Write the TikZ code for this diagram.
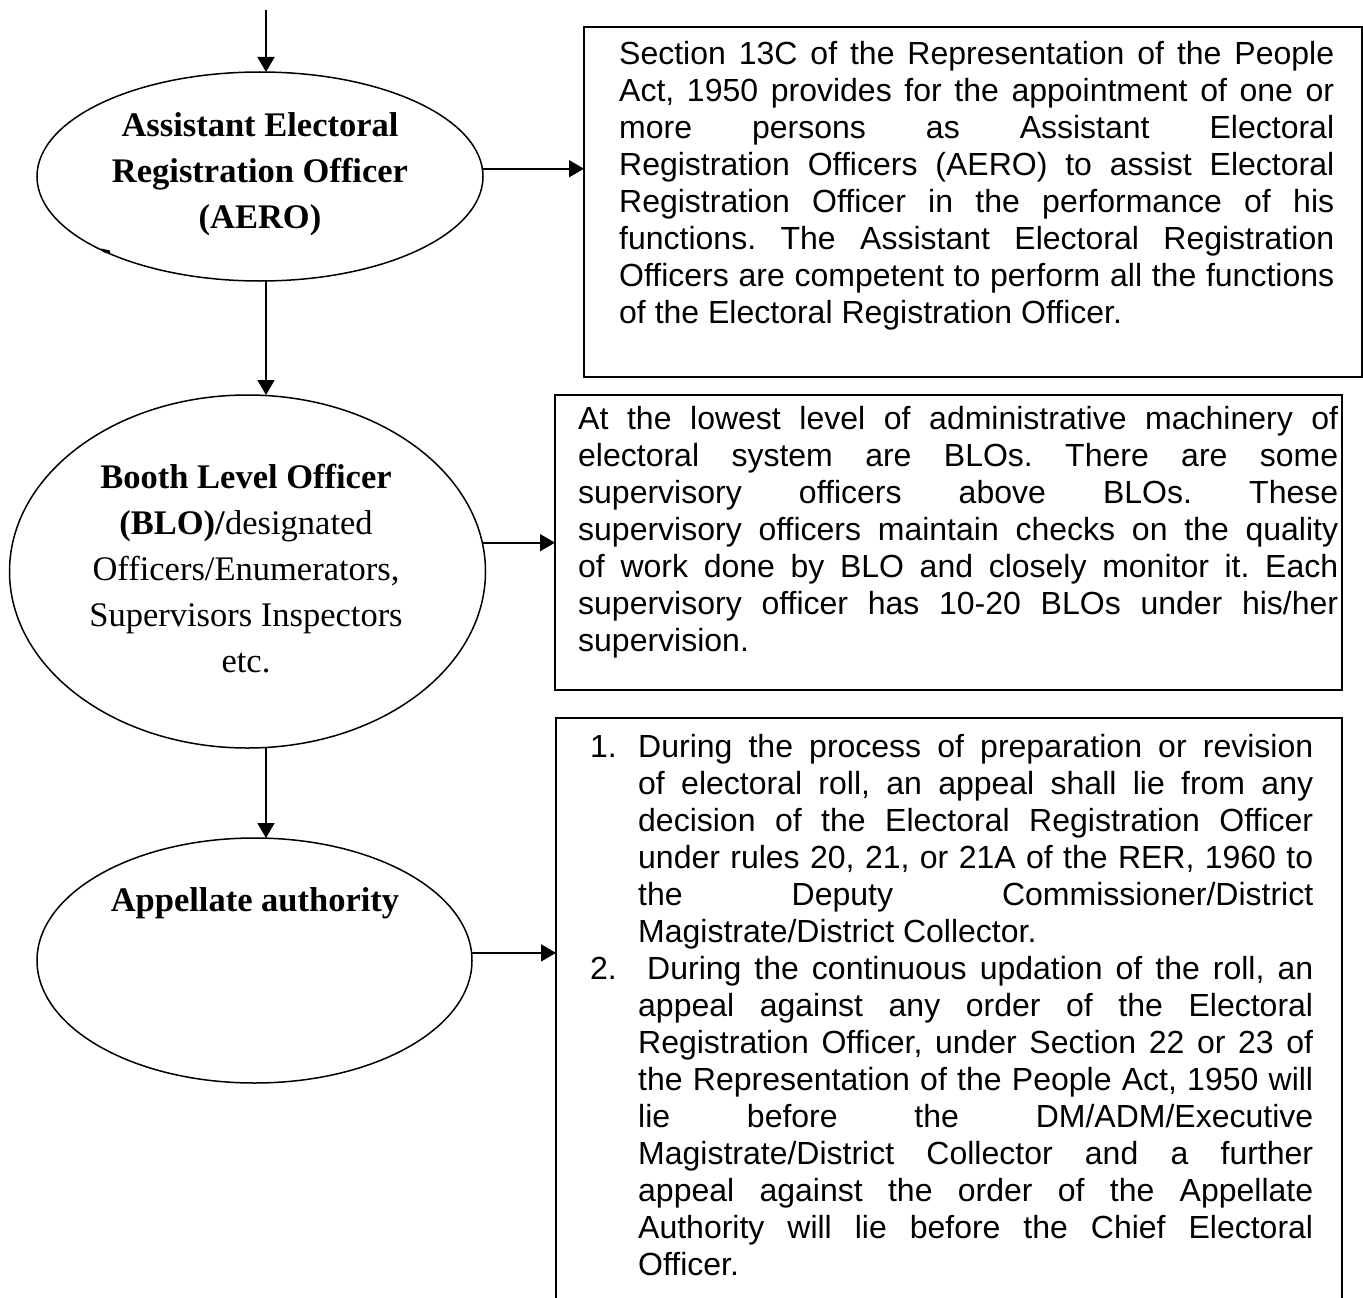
\documentclass[tikz,border=0pt]{standalone}
\usepackage{fontspec}
\setmainfont{Liberation Serif}
\newfontfamily\arialf{Liberation Sans}
\usetikzlibrary{shapes.geometric,arrows.meta}
\frenchspacing
\newlength\lw
\newcommand\jl[1]{\makebox[\lw][s]{\strut #1}}
\newcommand\lfl[1]{\makebox[\lw][l]{\strut #1}}
\newcommand\numl[2]{\makebox[48pt][l]{\strut #1}\makebox[\lw][s]{\strut #2}}
\newcommand\numj[1]{\hspace*{48pt}\makebox[\lw][s]{\strut #1}}
\newcommand\numf[1]{\hspace*{48pt}\makebox[\lw][l]{\strut #1}}
\begin{document}
\begin{tikzpicture}[x=1pt,y=-1pt,
  shp/.style={draw, line width=1.5pt, inner sep=0pt, outer sep=0pt},
  ell/.style={shp, ellipse},
  boxst/.style={shp, rectangle},
  arr/.style={line width=1.8pt, -{Triangle[length=15pt,width=17pt]}},
  etext/.style={inner sep=0pt, align=center, font=\fontsize{34.5}{46}\selectfont},
  btext/.style={inner sep=0pt, align=left, anchor=north west}
]
\clip (0,0) rectangle (1363,1298);
\fill[white] (0,0) rectangle (1363,1298);

% ellipses
\node[ell, minimum width=446pt, minimum height=209pt] (aero) at (260,176.5) {};
\node[ell, minimum width=476pt, minimum height=353pt] (blo) at (247.5,571.5) {};
\node[ell, minimum width=435pt, minimum height=245pt] (app) at (254.5,960.5) {};

% ellipse texts
\node[etext, anchor=north] (aerot) at (260,112.5) {\bfseries Assistant Electoral\\\bfseries Registration Officer\\\bfseries (AERO)};
\node[etext, anchor=north] (blot) at (246,464.5) {\bfseries Booth Level Officer\\\textbf{(BLO)/}designated\\Officers/Enumerators,\\Supervisors Inspectors\\etc.};
\node[etext, anchor=north] (appt) at (255,887.5) {\bfseries Appellate authority};

% small mark
\fill (101,248.5) -- (110,250.5) -- (110,254) -- (103,252) -- cycle;

% boxes
\node[boxst, minimum width=778pt, minimum height=350pt] (box1) at (973,202) {};
\node[boxst, minimum width=787pt, minimum height=295pt] (box2) at (948.5,542.5) {};
\node[boxst, minimum width=786pt, minimum height=602pt] (box3) at (949,1019) {};

% box texts
\node[btext, font={\arialf\fontsize{32}{37}\selectfont\setlength{\lw}{715pt}}] (t1) at (619,38) {%
\jl{Section 13C of the Representation of the People}\\
\jl{Act, 1950 provides for the appointment of one or}\\
\jl{more persons as Assistant Electoral}\\
\jl{Registration Officers (AERO) to assist Electoral}\\
\jl{Registration Officer in the performance of his}\\
\jl{functions. The Assistant Electoral Registration}\\
\jl{Officers are competent to perform all the functions}\\
\lfl{of the Electoral Registration Officer.}};

\node[btext, font={\arialf\fontsize{32}{37}\selectfont\setlength{\lw}{760pt}}] (t2) at (578,403) {%
\jl{At the lowest level of administrative machinery of}\\
\jl{electoral system are BLOs. There are some}\\
\jl{supervisory officers above BLOs. These}\\
\jl{supervisory officers maintain checks on the quality}\\
\jl{of work done by BLO and closely monitor it. Each}\\
\jl{supervisory officer has 10-20 BLOs under his/her}\\
\lfl{supervision.}};

\node[btext, font={\arialf\fontsize{32}{37}\selectfont\setlength{\lw}{675pt}}] (t3) at (590,731) {%
\numl{1.}{During the process of preparation or revision}\\
\numj{of electoral roll, an appeal shall lie from any}\\
\numj{decision of the Electoral Registration Officer}\\
\numj{under rules 20, 21, or 21A of the RER, 1960 to}\\
\numj{the Deputy Commissioner/District}\\
\numf{Magistrate/District Collector.}\\
\numl{2.}{\hspace*{9pt}During the continuous updation of the roll, an}\\
\numj{appeal against any order of the Electoral}\\
\numj{Registration Officer, under Section 22 or 23 of}\\
\numj{the Representation of the People Act, 1950 will}\\
\numj{lie before the DM/ADM/Executive}\\
\numj{Magistrate/District Collector and a further}\\
\numj{appeal against the order of the Appellate}\\
\numj{Authority will lie before the Chief Electoral}\\
\numf{Officer.}};

% connectors
\coordinate (vx) at (266,0);
\coordinate (topin) at (266,10);
\draw[arr] (topin) -- (aero.north -| vx);
\draw[arr] (aero.south -| vx) -- (blo.north -| vx);
\draw[arr] (blo.south -| vx) -- (app.north -| vx);
\draw[arr] (aero.2) -- (aero.2 -| box1.west);
\draw[arr] (blo.7.3) -- (blo.7.3 -| box2.west);
\draw[arr] (app.2) -- (app.2 -| box3.west);
\end{tikzpicture}
\end{document}
